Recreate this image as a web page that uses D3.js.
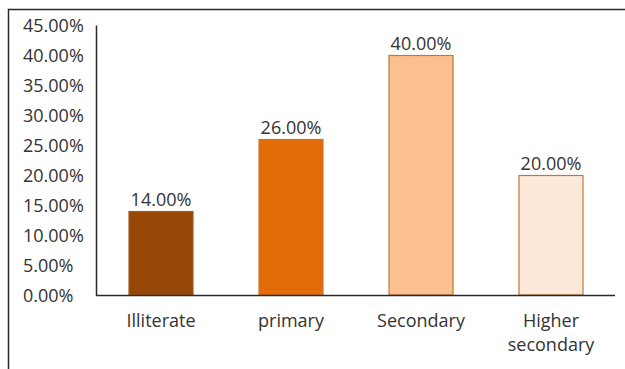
<!DOCTYPE html>
<html>
<head>
<meta charset="utf-8">
<script src="https://cdn.jsdelivr.net/npm/d3@7"></script>
<style>
  html, body { margin: 0; padding: 0; background: #fff; }
  svg text { font-family: "Open Sans", sans-serif; fill: #333; }
</style>
</head>
<body>
<svg id="chart" width="625" height="369"></svg>
<script>
const categories = ["Illiterate", "primary", "Secondary", "Higher secondary"];
const categoryLines = [["Illiterate"], ["primary"], ["Secondary"], ["Higher", "secondary"]];
const values = [0.14, 0.26, 0.40, 0.20];
const tickValues = [0, 0.05, 0.10, 0.15, 0.20, 0.25, 0.30, 0.35, 0.40, 0.45];
const fills = ["#974706", "#E36C09", "#FAC090", "#FDE9D9"];
const strokes = ["#a35a22", "#c9752f", "#c0773a", "#c0773a"];

const svg = d3.select("#chart");
const fmt = d3.format(".2%");

// frame
svg.append("path")
  .attr("d", "M8.5,369 L8.5,9.5 L625,9.5")
  .attr("fill", "none").attr("stroke", "#2a2a2a").attr("stroke-width", 1.5);

const x = d3.scaleBand().domain(categories).range([96, 616]).paddingInner(0.5).paddingOuter(0.25);
const y = d3.scaleLinear().domain([0, 0.45]).range([295, 25]);

// bars
svg.append("g").selectAll("rect").data(values).join("rect")
  .attr("x", (d, i) => x(categories[i]) + 0.5)
  .attr("y", d => y(d) + 0.5)
  .attr("width", x.bandwidth() - 1)
  .attr("height", d => y(0) - y(d) - 0.5)
  .attr("fill", (d, i) => fills[i])
  .attr("stroke", (d, i) => strokes[i])
  .attr("stroke-width", 1.2);

// value labels
svg.append("g").selectAll("text").data(values).join("text")
  .attr("x", (d, i) => x(categories[i]) + x.bandwidth() / 2)
  .attr("y", d => y(d) - 5)
  .attr("text-anchor", "middle")
  .style("font-size", "18px")
  .text(d => fmt(d));

// y axis
const yAxis = d3.axisLeft(y).tickValues(tickValues).tickSize(0).tickFormat(fmt);
const yg = svg.append("g").attr("transform", "translate(96,0)").call(yAxis);
yg.select(".domain").attr("stroke", "#2a2a2a").attr("stroke-width", 1.5);
yg.selectAll(".tick text")
  .attr("x", -73).attr("text-anchor", "start").attr("dy", "0.35em")
  .style("font-size", "18px").attr("fill", "#333");

// x axis
const xAxis = d3.axisBottom(x).tickSize(0).tickFormat("");
const xg = svg.append("g").attr("transform", "translate(0,295)").call(xAxis);
xg.select(".domain").attr("d", "M96,0.5H615").attr("stroke", "#2a2a2a").attr("stroke-width", 1.5);
xg.selectAll(".tick").each(function(d, i) {
  const t = d3.select(this).append("text")
    .attr("text-anchor", "middle")
    .style("font-size", "18px")
    .attr("fill", "#333");
  categoryLines[i].forEach((line, j) => {
    t.append("tspan").attr("x", 0).attr("y", 32 + j * 24).text(line);
  });
});
</script>
</body>
</html>
